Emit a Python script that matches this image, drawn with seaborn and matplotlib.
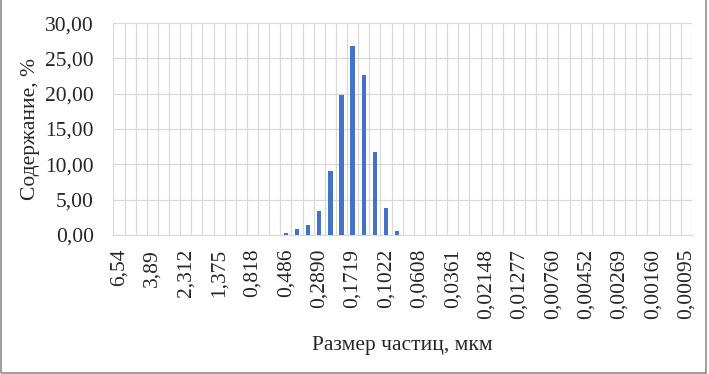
import matplotlib
matplotlib.use("Agg")
import matplotlib.pyplot as plt
from matplotlib.patches import Rectangle
import seaborn as sns
import pandas as pd

# particle size classes, um (every third one is labelled on the axis)
sizes = ["6,54", "5,50", "4,62", "3,89", "3,27", "2,75", "2,312", "1,944", "1,635",
         "1,375", "1,156", "0,972", "0,818", "0,688", "0,578", "0,486", "0,409", "0,344",
         "0,2890", "0,2430", "0,2044", "0,1719", "0,1445", "0,1215", "0,1022", "0,0859",
         "0,0723", "0,0608", "0,0511", "0,0430", "0,0361", "0,0304", "0,0255", "0,02148",
         "0,01806", "0,01519", "0,01277", "0,01074", "0,00903", "0,00760", "0,00639",
         "0,00537", "0,00452", "0,00380", "0,00320", "0,00269", "0,00226", "0,00190",
         "0,00160", "0,00134", "0,00113", "0,00095"]

# content, %
content = [0, 0, 0, 0, 0, 0, 0, 0, 0,
           0, 0, 0, 0, 0, 0, 0.2, 0.8, 1.4,
           3.4, 9.1, 19.8, 26.7, 22.7, 11.8, 3.8, 0.5,
           0, 0, 0, 0, 0, 0, 0, 0,
           0, 0, 0, 0, 0, 0, 0,
           0, 0, 0, 0, 0, 0, 0,
           0, 0, 0, 0]

yticks = [0, 5, 10, 15, 20, 25, 30]

df = pd.DataFrame({"size": sizes, "content": content})

sns.set_style("white")
plt.rcParams["font.family"] = ["Liberation Serif", "DejaVu Serif"]

fig = plt.figure(figsize=(7.09, 3.74), dpi=100)
ax = fig.add_axes([0.160, 0.372, 0.816, 0.566])

sns.barplot(data=df, x="size", y="content", color="#4472C4", saturation=1,
            width=0.4, linewidth=0, ax=ax, zorder=3)

n = len(sizes)
ax.set_xlim(-0.5, n - 0.5)
ax.set_ylim(0, 30)
ax.set_yticks(yticks)
ax.set_yticklabels([f"{v:.2f}".replace(".", ",") for v in yticks], fontsize=15.5,
                   color="#262626")
major = list(range(0, n, 3))
ax.set_xticks(major)
ax.set_xticklabels([sizes[i] for i in major], rotation=90, fontsize=15.5,
                   color="#262626")
ax.set_xticks([i + 0.5 for i in range(-1, n)], minor=True)

ax.grid(axis="y", color="#D9D9D9", linewidth=0.9, zorder=0)
ax.grid(axis="x", which="minor", color="#D9D9D9", linewidth=0.9, zorder=0)
ax.grid(axis="x", which="major", visible=False)
ax.tick_params(axis="y", which="both", length=0, pad=14)
ax.tick_params(axis="x", which="both", length=0, pad=10)

for s in ["top", "right", "left"]:
    ax.spines[s].set_visible(False)
ax.spines["bottom"].set_color("#D9D9D9")

ax.set_xlabel("Размер частиц, мкм", fontsize=15.5, labelpad=12, color="#262626")
ax.set_ylabel("Содержание, %", fontsize=15.5, labelpad=4, color="#262626")

# chart area border
fig.patches.append(Rectangle((0.002, 0.004), 0.994, 1.2, transform=fig.transFigure,
                             fill=False, edgecolor="#8C8C8C", linewidth=1.2))

fig.savefig("out.png", dpi=100)
